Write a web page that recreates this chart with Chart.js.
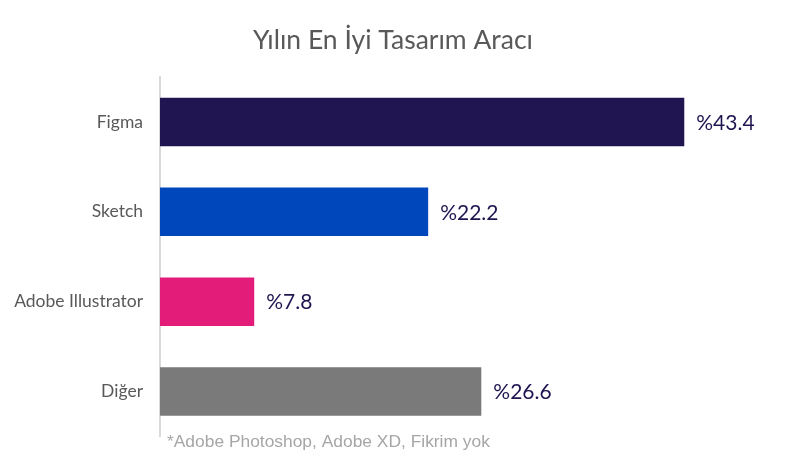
<!DOCTYPE html>
<html>
<head>
<meta charset="utf-8">
<script src="https://cdn.jsdelivr.net/npm/chart.js@4"></script>
<style>
  html, body { margin: 0; padding: 0; background: #fff; }
  #wrap { width: 789px; height: 464px; position: relative; }
</style>
</head>
<body>
<div id="wrap"><canvas id="bar-chart" width="789" height="464"></canvas></div>
<script>
// data
const categories = ["Figma", "Sketch", "Adobe Illustrator", "Diğer"]
const shares = [43.4, 22.2, 7.8, 26.6]
const barColors = ["#211551", "#0047BB", "#E31C79", "#7A7A7A"]
const titleText = "Yılın En İyi Tasarım Aracı"
const footnote = "*Adobe Photoshop, Adobe XD, Fikrim yok"

const ctx = document.querySelector("#bar-chart")

// title, value labels and footnote drawn by hand
const extraText = {
    id: "extraText",
    afterDatasetsDraw(chart) {
        const c = chart.ctx
        const meta = chart.getDatasetMeta(0)
        c.save()
        c.fillStyle = "#211551"
        c.font = "21px Lato"
        c.textBaseline = "middle"
        c.textAlign = "left"
        meta.data.forEach((bar, i) => {
            c.fillText("%" + shares[i], bar.x + 12, bar.y + 1)
        })

        c.fillStyle = "#595959"
        c.font = "26.5px Lato"
        c.textAlign = "center"
        c.fillText(titleText, 393, 40)

        c.fillStyle = "#A6A6A6"
        c.font = "17.4px 'Liberation Sans'"
        c.textAlign = "left"
        c.fillText(footnote, 167, 442)
        c.restore()
    }
}

const myChart = new Chart(ctx, {
    type: "bar",
    data: {
        labels: categories,
        datasets: [{
            data: shares,
            backgroundColor: barColors,
            categoryPercentage: 1,
            barPercentage: 0.54,
        }]
    },
    options: {
        animation: false,
        responsive: false,
        indexAxis: "y",
        layout: { padding: { top: 77, bottom: 23, right: 25, left: 0 } },
        plugins: {
            legend: { display: false },
            tooltip: { enabled: false },
        },
        scales: {
            x: {
                display: false,
                min: 0,
                max: 50,
            },
            y: {
                afterFit: (scale) => { scale.width = 160 },
                grid: { display: false, drawTicks: false },
                border: { display: true, color: "#D9D9D9", width: 2 },
                ticks: {
                    padding: 17,
                    color: "#595959",
                    font: { family: "Lato", size: 17.5 },
                },
            },
        },
    },
    plugins: [extraText]
})
</script>
</body>
</html>
